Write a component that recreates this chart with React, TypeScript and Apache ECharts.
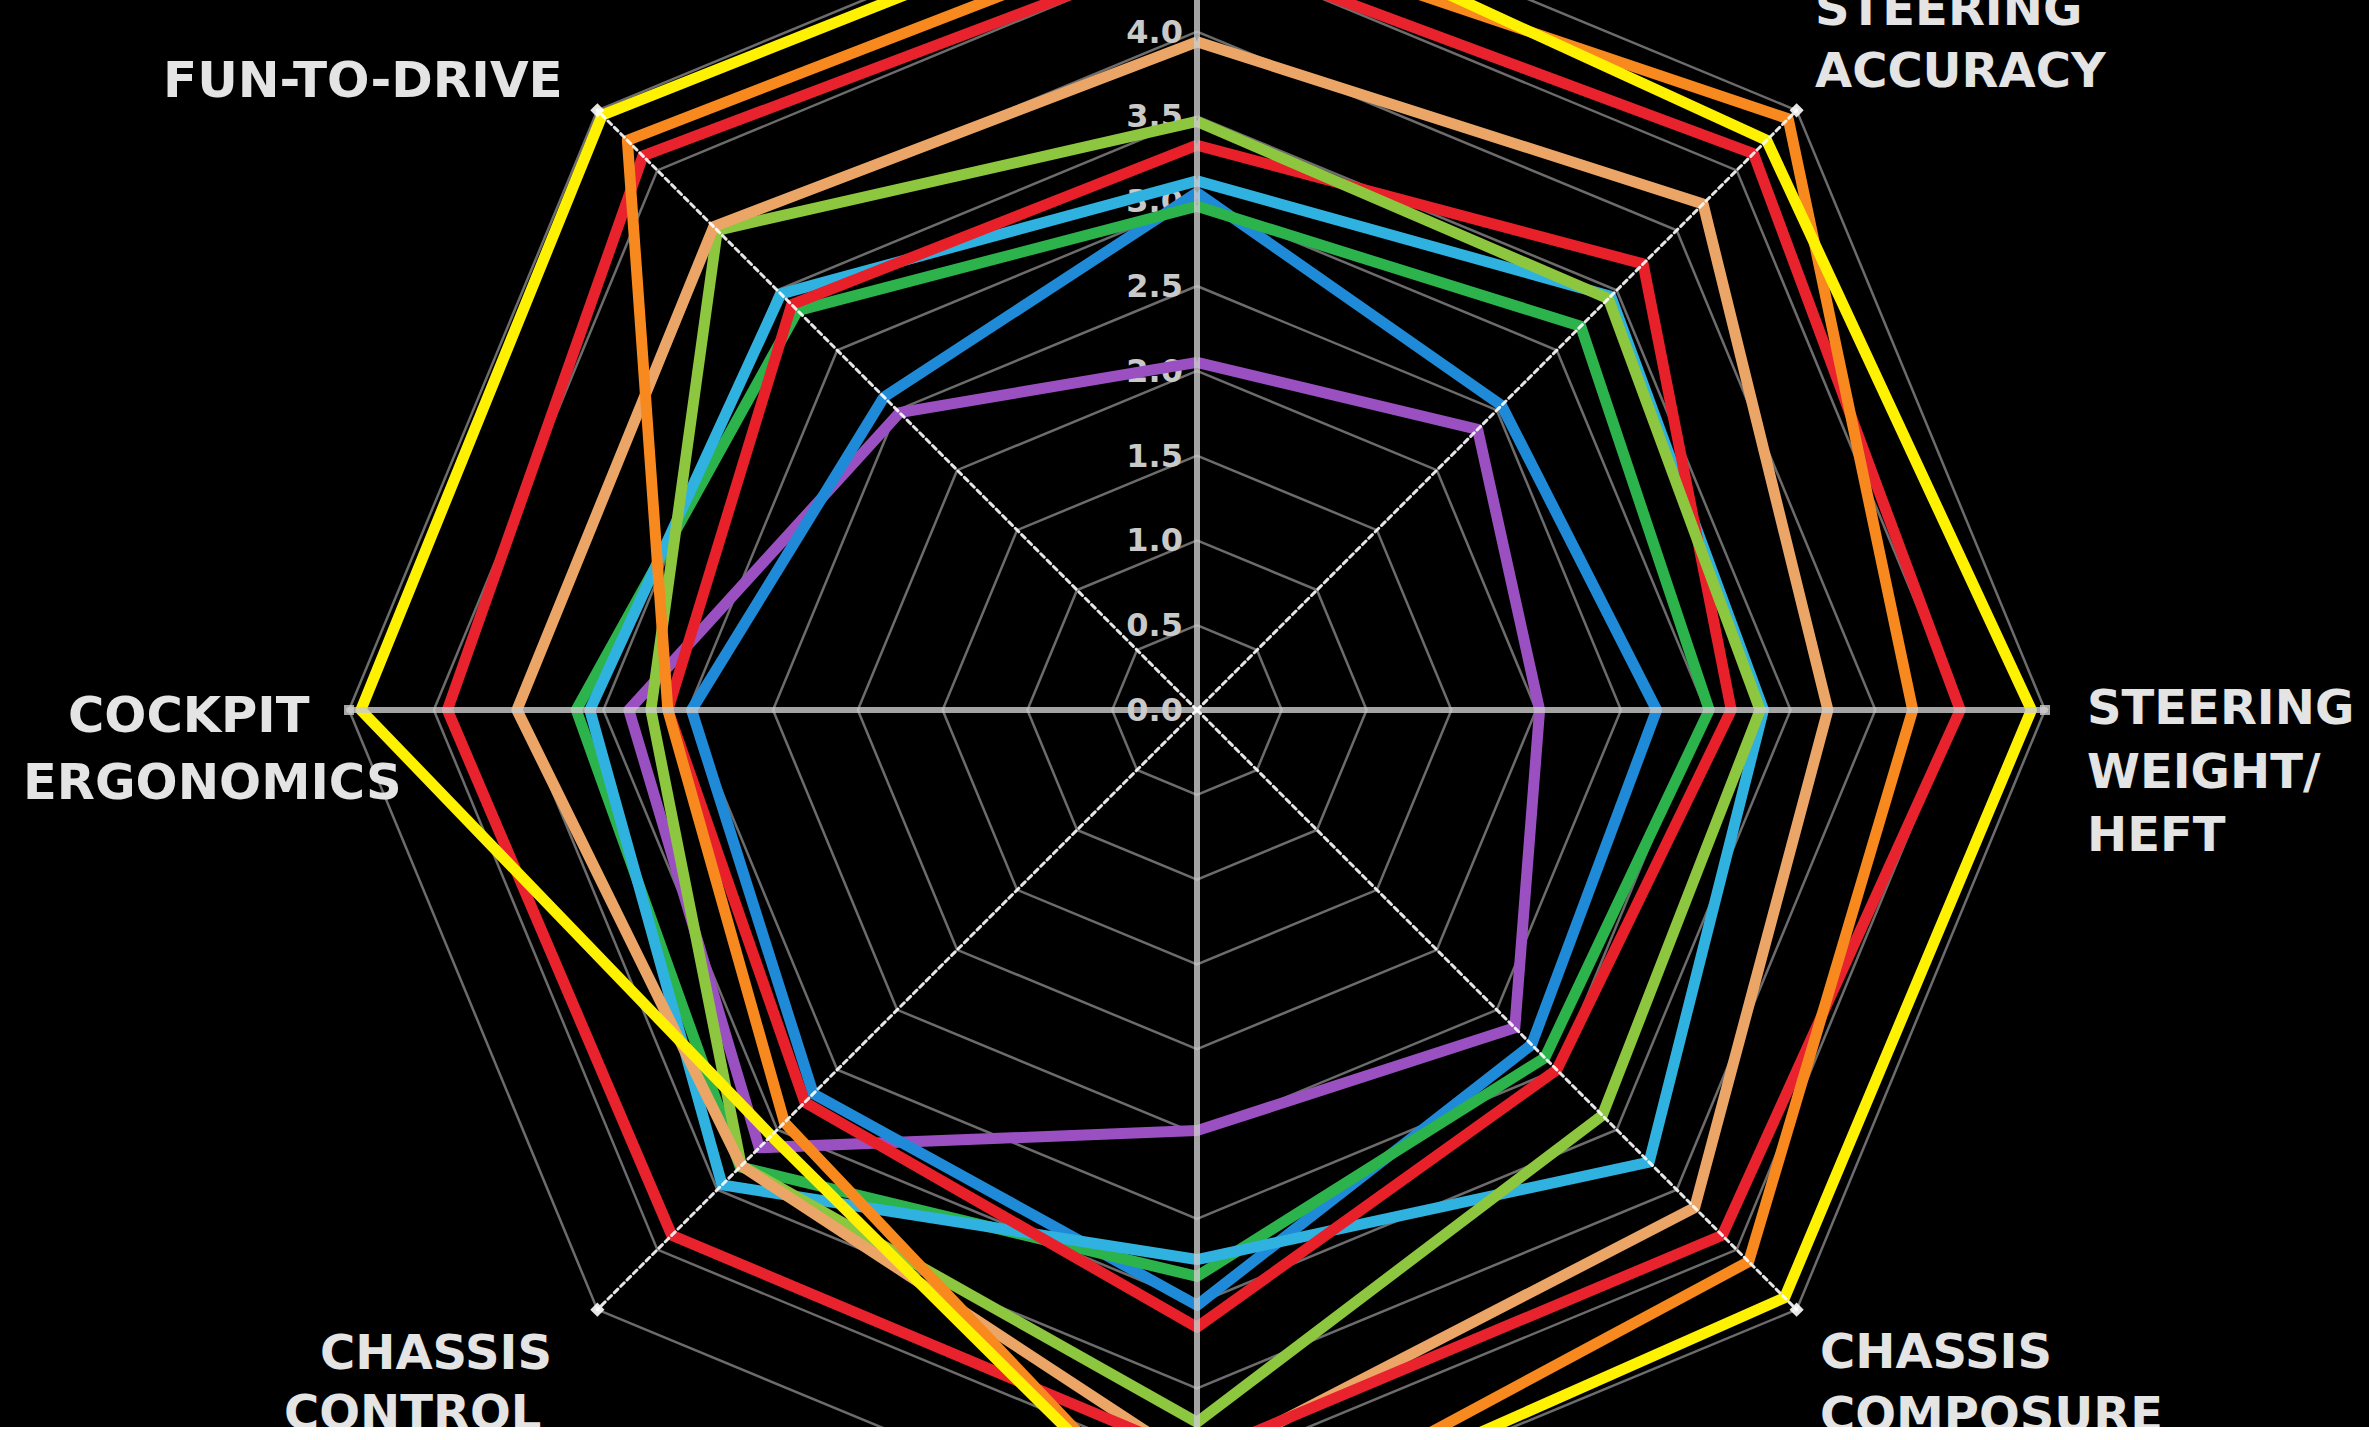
import React, { useEffect, useRef } from 'react';
import * as echarts from 'echarts';

// Axis names, clockwise from the top (top and bottom names lie outside the picture)
const categories = ['', 'STEERING\nACCURACY', 'STEERING\nWEIGHT/\nHEFT', 'CHASSIS\nCOMPOSURE', '', 'CHASSIS\nCONTROL', 'COCKPIT\nERGONOMICS', 'FUN-TO-DRIVE'];
const tickLabels = ['0.0', '0.5', '1.0', '1.5', '2.0', '2.5', '3.0', '3.5', '4.0'];

// Values, clockwise from the top axis
const yellow = [4.9, 4.75, 4.92, 4.9, 5.0, 3.55, 4.93, 4.96];
const orange = [4.66, 4.93, 4.22, 4.6, 5.0, 3.44, 3.12, 4.75];
const redOuter = [4.5, 4.64, 4.5, 4.38, 4.4, 4.38, 4.42, 4.62];
const tan = [3.94, 4.22, 3.72, 4.15, 4.45, 3.8, 4.01, 4.03];
const lime = [3.47, 3.43, 3.32, 3.38, 4.2, 3.8, 3.22, 4.0];
const redInner = [3.33, 3.72, 3.15, 3.0, 3.64, 3.27, 3.12, 3.38];
const cyan = [3.12, 3.45, 3.34, 3.77, 3.24, 3.96, 3.58, 3.47];
const green = [2.97, 3.2, 3.02, 2.9, 3.34, 3.81, 3.66, 3.33];
const blue = [3.05, 2.54, 2.71, 2.79, 3.51, 3.2, 2.98, 2.61];
const purple = [2.05, 2.34, 2.02, 2.65, 2.48, 3.65, 3.35, 2.48];

const seriesList = [
  { data: purple, color: '#9b50c2' },
  { data: blue, color: '#1f8ad8' },
  { data: green, color: '#2cb34c' },
  { data: cyan, color: '#2fb2e0' },
  { data: redInner, color: '#e8202a' },
  { data: lime, color: '#8dc63f' },
  { data: tan, color: '#eba566' },
  { data: redOuter, color: '#e8232d' },
  { data: orange, color: '#f7891f' },
  { data: yellow, color: '#fff200' },
];

const MAX = 5;
const CX = 1197;
const CY = 710;
const R = 848;

// label line placements (per category index, per line): [x, y, fontSize]
const labelPlacement: Record<number, [number, number, number][]> = {
  1: [[1815, 8, 48], [1815, 70, 48]],
  2: [[2087, 707, 48], [2087, 771, 48], [2087, 834, 48]],
  3: [[1820, 1351, 48], [1820, 1414, 48]],
  5: [[320, 1352, 48], [284, 1412, 48]],
  6: [[68, 715, 49.5], [23, 782, 49.5]],
  7: [[163, 80, 50]],
};

export default function App() {
  const ref = useRef<HTMLDivElement>(null);
  useEffect(() => {
    if (!ref.current) return;
    const chart = echarts.init(ref.current, undefined, { renderer: 'svg' });
    // ECharts places radar indicators counter-clockwise; reorder clockwise data accordingly
    const order = [0, 7, 6, 5, 4, 3, 2, 1];
    const reorder = (arr: number[]) => order.map((i) => arr[i]);

    const graphics: any[] = [];
    Object.keys(labelPlacement).forEach((k) => {
      const idx = Number(k);
      const lines = categories[idx].split('\n');
      labelPlacement[idx].forEach((p, li) => {
        graphics.push({
          type: 'text',
          x: p[0],
          y: p[1],
          z: 10,
          style: {
            text: lines[li],
            fill: '#e4e4e4',
            font: `bold ${p[2]}px "DejaVu Sans"`,
            align: 'left',
            verticalAlign: 'middle',
          },
        });
      });
    });

    // the tick-label axis runs from the centre up to the top edge of the picture
    const axisTopValue = (CY / R) * MAX;

    const option: any = {
      animation: false,
      backgroundColor: '#000',
      grid: { left: CX, top: 0, width: 10, height: CY, containLabel: false },
      xAxis: { type: 'value', show: false, min: 0, max: 1 },
      yAxis: {
        type: 'value',
        min: 0,
        max: axisTopValue,
        interval: 0.5,
        position: 'left',
        axisLine: { show: false },
        axisTick: { show: false },
        splitLine: { show: false },
        axisLabel: {
          color: '#c9c9c9',
          fontFamily: 'DejaVu Sans',
          fontWeight: 'bold',
          fontSize: 32,
          margin: 14,
          padding: [10, 0, 0, 0],
          showMaxLabel: false,
          formatter: (v: number) => {
            const q = v / 0.5;
            const i = Math.round(q);
            if (Math.abs(q - i) > 1e-6) return '';
            return tickLabels[i] !== undefined ? tickLabels[i] : '';
          },
        },
      },
      radar: [
        {
          center: [CX, CY],
          radius: R,
          startAngle: 90,
          splitNumber: 10,
          shape: 'polygon',
          z: 0,
          indicator: order.map((i) => ({ name: categories[i], min: 0, max: MAX })),
          axisName: { show: false },
          axisLine: { show: false },
          axisTick: { show: false },
          axisLabel: { show: false },
          splitLine: { lineStyle: { color: '#6c6c6c', width: 2.5 } },
          splitArea: { show: false },
        },
        {
          center: [CX, CY],
          radius: R,
          startAngle: 90,
          splitNumber: 10,
          shape: 'polygon',
          z: 4,
          indicator: [0, 1, 2, 3].map(() => ({ name: '', min: 0, max: MAX })),
          axisName: { show: false },
          axisLine: {
            lineStyle: { color: 'rgba(205,205,205,0.8)', width: 6 },
            symbol: ['none', 'rect'],
            symbolSize: [10, 10],
          },
          axisTick: { show: false },
          axisLabel: { show: false },
          splitLine: { show: false },
          splitArea: { show: false },
        },
        {
          center: [CX, CY],
          radius: R,
          startAngle: 45,
          splitNumber: 10,
          shape: 'polygon',
          z: 4,
          indicator: [0, 1, 2, 3].map(() => ({ name: '', min: 0, max: MAX })),
          axisName: { show: false },
          axisLine: {
            lineStyle: { color: 'rgba(255,255,255,0.9)', width: 3, type: [5, 4] },
            symbol: ['none', 'rect'],
            symbolSize: [10, 10],
          },
          axisTick: { show: false },
          axisLabel: { show: false },
          splitLine: { show: false },
          splitArea: { show: false },
        },
      ],
      graphic: graphics,
      series: seriesList.map((s) => ({
        type: 'radar',
        radarIndex: 0,
        z: 2,
        symbol: 'none',
        silent: true,
        lineStyle: { color: s.color, width: 11 },
        itemStyle: { color: s.color },
        data: [{ value: reorder(s.data) }],
      })),
    };
    chart.setOption(option);
    return () => chart.dispose();
  }, []);

  return (
    <div
      ref={ref}
      style={{ position: 'fixed', left: 0, top: 0, width: 2369, height: 1427 }}
    />
  );
}
